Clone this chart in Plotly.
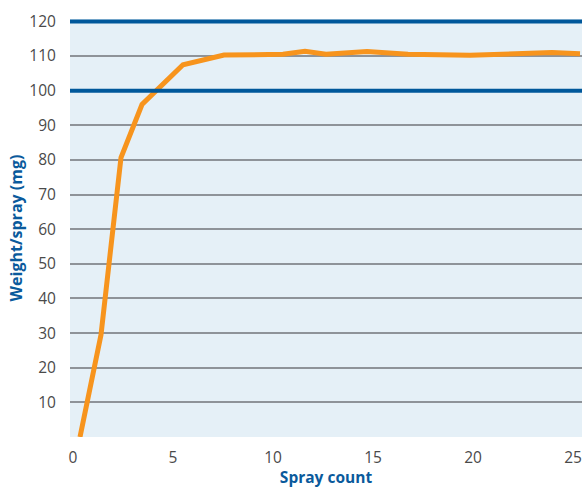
import plotly.graph_objects as go

spray_count = [0.35, 1.4, 2.4, 3.45, 5.5, 7.55, 10.5, 11.6, 12.65, 14.7, 16.75, 19.85, 23.95, 25.35]
weight_mg = [0, 29.5, 80.7, 96, 107.5, 110.3, 110.5, 111.4, 110.5, 111.3, 110.5, 110.2, 111.0, 110.7]
limit_lines = [100, 120]
y_ticks = [10, 20, 30, 40, 50, 60, 70, 80, 90, 100, 110, 120]
x_ticks = [0, 5, 10, 15, 20, 25]

fig = go.Figure()
fig.add_trace(go.Scatter(x=spray_count, y=weight_mg, mode="lines",
                         line=dict(color="#f7941d", width=5), showlegend=False))
for v in limit_lines:
    fig.add_shape(type="line", xref="paper", x0=0, x1=1, yref="y", y0=v, y1=v,
                  line=dict(color="#00589b", width=4), layer="above")

fig.update_layout(
    width=582, height=488,
    margin=dict(l=70, r=0, t=19, b=51),
    paper_bgcolor="white", plot_bgcolor="#e5f0f7",
    font=dict(family="Open Sans", size=15.5, color="#4a4a4a"),
    xaxis=dict(range=[-0.15, 25.45], tickvals=x_ticks, showgrid=False, zeroline=False,
               showline=False, ticks="outside", ticklen=6, tickcolor="rgba(0,0,0,0)",
               title=dict(text="<b>Spray count</b>", font=dict(color="#0a5a9c", size=15.5), standoff=8)),
    yaxis=dict(range=[0, 120.7], tickvals=y_ticks, showgrid=True, gridcolor="#8e9399", gridwidth=1.5,
               zeroline=False, showline=False, ticks="outside", ticklen=10, tickcolor="rgba(0,0,0,0)",
               title=dict(text="<b>Weight/spray (mg)</b>", font=dict(color="#0a5a9c", size=16), standoff=2)),
)
fig.write_html("out.html", config={"displayModeBar": False},
               post_script="document.body.style.margin='0px';")
